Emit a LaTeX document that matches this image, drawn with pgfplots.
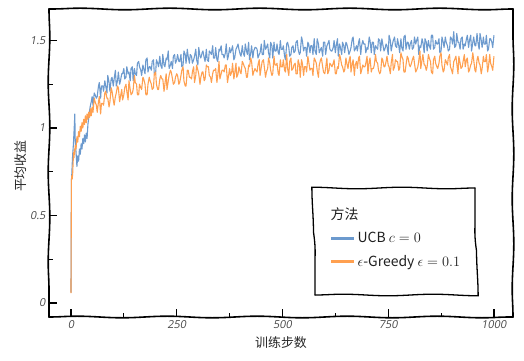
\documentclass[border=0pt]{standalone}
\usepackage{pgfplots}
\pgfplotsset{compat=1.18}
\usepackage{fontspec}
\usetikzlibrary{decorations.pathmorphing}
\newfontfamily\cjk{Noto Sans CJK SC}
\newfontfamily\tickfont[FakeSlant=0.18]{Open Sans}
\definecolor{ucbblue}{RGB}{108,154,206}
\definecolor{greedyorange}{RGB}{255,160,80}
\begin{document}
\begin{tikzpicture}
\useasboundingbox (0,0) rectangle (524bp,361bp);
\begin{axis}[
  name=ax,
  at={(49bp,44bp)}, anchor=south west,
  scale only axis, width=464bp, height=308bp,
  xmin=-52, xmax=1045, ymin=-0.08, ymax=1.68,
  xtick={0,250,500,750,1000}, ytick={0,0.5,1,1.5},
  minor x tick num=1, minor y tick num=1,
  tick align=inside, tick pos=left,
  major tick length=8bp, minor tick length=3.5bp,
  major tick style={line width=1.4pt, black},
  minor tick style={line width=1.1pt, black},
  axis line style={draw=none},
  /pgf/number format/assume math mode=true,
  /pgf/number format/1000 sep={},
  ticklabel style={font=\tickfont\fontsize{11}{12}\selectfont, text=black!72},
  xlabel={训练步数}, ylabel={平均收益},
  every axis x label/.style={at={(axis description cs:0.5,-0.083)}, anchor=center, font=\cjk\fontsize{13}{15}\selectfont, text=black!85},
  every axis y label/.style={at={(axis description cs:-0.062,0.49)}, rotate=90, anchor=center, font=\cjk\fontsize{13}{15}\selectfont, text=black!85},
  legend style={at={(axis description cs:0.573,0.419)}, anchor=north west, draw=none, fill=white,
    inner xsep=15bp, inner ysep=18bp, row sep=7bp, font=\cjk\fontsize{14}{16}\selectfont, text=black!88,
    cells={anchor=west}},
  legend cell align=left,
  legend image code/.code={\draw[#1, line width=2.6pt] (0bp,0bp) -- (23bp,0bp);},
]
\addlegendimage{empty legend}
\addlegendentry{\hspace*{-27bp}方法\rule[-10bp]{0pt}{1bp}}
\addplot[color=ucbblue, line width=1.1pt, line join=round] coordinates {
(0,0.06)(1,0.70)(2,0.74)(3,0.80)(4,0.85)(5,0.88)(6,0.92)(7,0.97)(8,1.02)(9,1.08)(10,0.93)(12,0.86)(14,0.78)(16,0.84)(18,0.81)(20,0.88)(22,0.85)(24,0.91)(26,0.88)(28,0.94)(30,0.91)(32,0.96)(34,0.92)(36,0.97)(38,0.94)(40,1.02)(42,1.06)(44,1.10)(46,1.13)(48,1.15)(50,1.18)
(52,1.13)(55,1.20)(57,1.19)(60,1.17)(62,1.18)(65,1.24)(67,1.26)(70,1.17)(72,1.24)(75,1.24)(77,1.21)(80,1.27)(82,1.24)(85,1.20)(87,1.30)(90,1.26)(92,1.21)(95,1.28)(97,1.29)(100,1.24)
(102,1.28)(105,1.33)(107,1.24)(110,1.27)(112,1.32)(115,1.25)(117,1.27)(120,1.31)(122,1.31)(125,1.34)(127,1.28)(130,1.29)(132,1.35)(135,1.31)(137,1.32)(140,1.27)(142,1.34)(145,1.35)(147,1.27)(150,1.34)
(152,1.31)(155,1.30)(157,1.37)(160,1.38)(162,1.35)(165,1.33)(167,1.30)(170,1.36)(172,1.34)(175,1.31)(177,1.39)(180,1.40)(182,1.32)(185,1.35)(187,1.35)(190,1.33)(192,1.38)(195,1.39)(197,1.31)(200,1.31)
(202,1.39)(205,1.37)(207,1.35)(210,1.41)(212,1.36)(215,1.34)(217,1.42)(220,1.36)(222,1.35)(225,1.40)(227,1.39)(230,1.44)(232,1.34)(235,1.36)(237,1.38)(240,1.34)(242,1.41)(245,1.42)(247,1.37)(250,1.39)
(252,1.42)(255,1.38)(257,1.38)(260,1.42)(262,1.35)(265,1.36)(267,1.44)(270,1.42)(272,1.37)(275,1.45)(277,1.41)(280,1.37)(282,1.42)(285,1.41)(287,1.37)(290,1.39)(292,1.41)(295,1.45)(297,1.39)(300,1.36)
(302,1.46)(305,1.41)(307,1.40)(310,1.43)(312,1.44)(315,1.40)(317,1.38)(320,1.45)(322,1.39)(325,1.38)(327,1.44)(330,1.43)(332,1.42)(335,1.47)(337,1.40)(340,1.40)(342,1.46)(345,1.39)(347,1.38)(350,1.45)
(352,1.44)(355,1.47)(357,1.42)(360,1.42)(362,1.40)(365,1.43)(367,1.48)(370,1.39)(372,1.41)(375,1.46)(377,1.43)(380,1.45)(382,1.47)(385,1.39)(387,1.40)(390,1.45)(392,1.46)(395,1.48)(397,1.45)(400,1.42)
(402,1.41)(405,1.47)(407,1.43)(410,1.41)(412,1.48)(415,1.44)(417,1.42)(420,1.49)(422,1.39)(425,1.43)(427,1.47)(430,1.40)(432,1.44)(435,1.46)(437,1.46)(440,1.45)(442,1.40)(445,1.42)(447,1.43)(450,1.48)
(452,1.42)(455,1.42)(457,1.50)(460,1.45)(462,1.46)(465,1.48)(467,1.43)(470,1.40)(472,1.49)(475,1.47)(477,1.40)(480,1.49)(482,1.44)(485,1.44)(487,1.48)(490,1.43)(492,1.42)(495,1.50)(497,1.45)(500,1.45)
(502,1.47)(505,1.41)(507,1.39)(510,1.48)(512,1.49)(515,1.46)(517,1.41)(520,1.42)(522,1.46)(525,1.47)(527,1.43)(530,1.44)(532,1.49)(535,1.50)(537,1.45)(540,1.42)(542,1.43)(545,1.52)(547,1.50)(550,1.44)
(552,1.46)(555,1.46)(557,1.41)(560,1.49)(562,1.48)(565,1.43)(567,1.47)(570,1.47)(572,1.42)(575,1.51)(577,1.44)(580,1.42)(582,1.51)(585,1.48)(587,1.43)(590,1.45)(592,1.46)(595,1.41)(597,1.49)(600,1.49)
(602,1.42)(605,1.47)(607,1.48)(610,1.50)(612,1.45)(615,1.44)(617,1.44)(620,1.46)(622,1.50)(625,1.43)(627,1.47)(630,1.51)(632,1.41)(635,1.48)(637,1.46)(640,1.42)(642,1.49)(645,1.47)(647,1.43)(650,1.49)
(652,1.48)(655,1.45)(657,1.42)(660,1.44)(662,1.46)(665,1.51)(667,1.52)(670,1.44)(672,1.45)(675,1.47)(677,1.44)(680,1.49)(682,1.51)(685,1.42)(687,1.47)(690,1.50)(692,1.48)(695,1.48)(697,1.43)(700,1.46)
(702,1.45)(705,1.52)(707,1.50)(710,1.43)(712,1.49)(715,1.49)(717,1.42)(720,1.47)(722,1.46)(725,1.45)(727,1.51)(730,1.50)(732,1.44)(735,1.51)(737,1.48)(740,1.44)(742,1.45)(745,1.48)(747,1.47)(750,1.42)
(752,1.53)(755,1.50)(757,1.44)(760,1.48)(762,1.50)(765,1.52)(767,1.47)(770,1.46)(772,1.51)(775,1.47)(777,1.43)(780,1.51)(782,1.46)(785,1.44)(787,1.52)(790,1.53)(792,1.45)(795,1.49)(797,1.49)(800,1.45)
(802,1.48)(805,1.50)(807,1.45)(810,1.46)(812,1.52)(815,1.48)(817,1.50)(820,1.52)(822,1.42)(825,1.47)(827,1.46)(830,1.51)(832,1.49)(835,1.43)(837,1.51)(840,1.49)(842,1.44)(845,1.50)(847,1.47)(850,1.45)
(852,1.53)(855,1.53)(857,1.45)(860,1.46)(862,1.50)(865,1.48)(867,1.48)(870,1.51)(872,1.43)(875,1.44)(877,1.52)(880,1.49)(882,1.46)(885,1.52)(887,1.49)(890,1.47)(892,1.44)(895,1.45)(897,1.52)(900,1.51)
(902,1.48)(905,1.55)(907,1.46)(910,1.47)(912,1.54)(915,1.49)(917,1.49)(920,1.45)(922,1.51)(925,1.52)(927,1.45)(930,1.48)(932,1.47)(935,1.51)(937,1.53)(940,1.46)(942,1.50)(945,1.53)(947,1.44)(950,1.49)
(952,1.52)(955,1.47)(957,1.47)(960,1.54)(962,1.49)(965,1.45)(967,1.54)(970,1.50)(972,1.46)(975,1.52)(977,1.48)(980,1.48)(982,1.53)(985,1.44)(987,1.45)(990,1.51)(992,1.51)(995,1.49)(997,1.46)(1000,1.53)
};
\addlegendentry{UCB $c=0$}
\addplot[color=greedyorange, line width=1.1pt, line join=round] coordinates {
(0,0.057)(1,0.70)(2,0.73)(3,0.71)(4,0.74)(5,0.80)(6,0.86)(7,0.83)(8,0.88)(9,0.85)(10,0.90)(12,0.88)(14,0.95)(16,0.92)(18,0.98)(20,0.95)(22,1.01)(24,0.98)(26,1.03)(28,1.00)(30,1.05)(32,1.02)(34,1.07)(36,1.03)(38,1.08)(40,1.05)(42,1.09)(44,1.06)(46,1.11)(48,1.07)(50,1.12)
(52,1.09)(55,1.17)(57,1.15)(60,1.13)(62,1.09)(65,1.15)(67,1.18)(70,1.08)(72,1.14)(75,1.14)(77,1.13)(80,1.20)(82,1.21)(85,1.17)(87,1.17)(90,1.12)(92,1.15)(95,1.23)(97,1.21)(100,1.16)
(102,1.13)(105,1.18)(107,1.20)(110,1.24)(112,1.23)(115,1.15)(117,1.18)(120,1.22)(122,1.16)(125,1.19)(127,1.23)(130,1.25)(132,1.21)(135,1.16)(137,1.27)(140,1.22)(142,1.19)(145,1.20)(147,1.22)(150,1.30)
(152,1.26)(155,1.25)(157,1.19)(160,1.19)(162,1.25)(165,1.23)(167,1.22)(170,1.29)(172,1.28)(175,1.25)(177,1.19)(180,1.19)(182,1.25)(185,1.29)(187,1.27)(190,1.25)(192,1.22)(195,1.23)(197,1.31)(200,1.32)
(202,1.25)(205,1.22)(207,1.22)(210,1.28)(212,1.30)(215,1.28)(217,1.28)(220,1.21)(222,1.25)(225,1.31)(227,1.22)(230,1.27)(232,1.30)(235,1.33)(237,1.32)(240,1.28)(242,1.25)(245,1.26)(247,1.29)(250,1.31)
(252,1.30)(255,1.25)(257,1.26)(260,1.30)(262,1.33)(265,1.35)(267,1.27)(270,1.24)(272,1.24)(275,1.33)(277,1.33)(280,1.29)(282,1.29)(285,1.28)(287,1.32)(290,1.35)(292,1.26)(295,1.30)(297,1.36)(300,1.33)
(302,1.31)(305,1.25)(307,1.29)(310,1.32)(312,1.32)(315,1.27)(317,1.28)(320,1.36)(322,1.35)(325,1.35)(327,1.30)(330,1.29)(332,1.26)(335,1.31)(337,1.33)(340,1.33)(342,1.34)(345,1.26)(347,1.30)(350,1.38)
(352,1.28)(355,1.31)(357,1.33)(360,1.33)(362,1.32)(365,1.36)(367,1.36)(370,1.26)(372,1.29)(375,1.34)(377,1.30)(380,1.32)(382,1.37)(385,1.28)(387,1.31)(390,1.37)(392,1.29)(395,1.31)(397,1.35)(400,1.32)
(402,1.31)(405,1.38)(407,1.37)(410,1.35)(412,1.34)(415,1.29)(417,1.29)(420,1.36)(422,1.35)(425,1.40)(427,1.38)(430,1.30)(432,1.32)(435,1.34)(437,1.33)(440,1.32)(442,1.36)(445,1.39)(447,1.30)(450,1.35)
(452,1.38)(455,1.39)(457,1.35)(460,1.29)(462,1.32)(465,1.34)(467,1.40)(470,1.37)(472,1.33)(475,1.30)(477,1.31)(480,1.41)(482,1.36)(485,1.36)(487,1.37)(490,1.31)(492,1.30)(495,1.39)(497,1.35)(500,1.35)
(502,1.39)(505,1.33)(507,1.32)(510,1.42)(512,1.34)(515,1.30)(517,1.38)(520,1.40)(522,1.33)(525,1.34)(527,1.36)(530,1.37)(532,1.31)(535,1.31)(537,1.39)(540,1.36)(542,1.29)(545,1.39)(547,1.37)(550,1.30)
(552,1.35)(555,1.35)(557,1.32)(560,1.41)(562,1.38)(565,1.33)(567,1.34)(570,1.34)(572,1.30)(575,1.40)(577,1.39)(580,1.37)(582,1.33)(585,1.29)(587,1.36)(590,1.39)(592,1.40)(595,1.35)(597,1.32)(600,1.31)
(602,1.34)(605,1.40)(607,1.31)(610,1.33)(612,1.37)(615,1.36)(617,1.35)(620,1.37)(622,1.39)(625,1.31)(627,1.31)(630,1.35)(632,1.34)(635,1.42)(637,1.40)(640,1.36)(642,1.35)(645,1.32)(647,1.33)(650,1.40)
(652,1.37)(655,1.34)(657,1.38)(660,1.41)(662,1.32)(665,1.37)(667,1.39)(670,1.30)(672,1.36)(675,1.38)(677,1.34)(680,1.40)(682,1.41)(685,1.31)(687,1.33)(690,1.36)(692,1.35)(695,1.35)(697,1.37)(700,1.41)
(702,1.31)(705,1.38)(707,1.40)(710,1.32)(712,1.34)(715,1.34)(717,1.36)(720,1.42)(722,1.38)(725,1.37)(727,1.33)(730,1.31)(732,1.32)(735,1.40)(737,1.39)(740,1.35)(742,1.35)(745,1.38)(747,1.41)(750,1.36)
(752,1.35)(755,1.31)(757,1.37)(760,1.42)(762,1.33)(765,1.35)(767,1.39)(770,1.38)(772,1.38)(775,1.33)(777,1.34)(780,1.43)(782,1.41)(785,1.39)(787,1.32)(790,1.32)(792,1.36)(795,1.41)(797,1.40)(800,1.36)
(802,1.35)(805,1.37)(807,1.39)(810,1.41)(812,1.37)(815,1.32)(817,1.33)(820,1.35)(822,1.38)(825,1.44)(827,1.34)(830,1.39)(832,1.42)(835,1.36)(837,1.36)(840,1.33)(842,1.35)(845,1.42)(847,1.40)(850,1.38)
(852,1.32)(855,1.31)(857,1.39)(860,1.41)(862,1.37)(865,1.35)(867,1.34)(870,1.37)(872,1.41)(875,1.43)(877,1.36)(880,1.32)(882,1.33)(885,1.39)(887,1.38)(890,1.36)(892,1.40)(895,1.42)(897,1.35)(900,1.33)
(902,1.31)(905,1.38)(907,1.39)(910,1.41)(912,1.37)(915,1.31)(917,1.41)(920,1.37)(922,1.34)(925,1.35)(927,1.38)(930,1.42)(932,1.35)(935,1.39)(937,1.40)(940,1.32)(942,1.33)(945,1.36)(947,1.37)(950,1.43)
(952,1.39)(955,1.33)(957,1.32)(960,1.39)(962,1.41)(965,1.37)(967,1.36)(970,1.31)(972,1.34)(975,1.41)(977,1.38)(980,1.38)(982,1.42)(985,1.32)(987,1.35)(990,1.42)(992,1.37)(995,1.35)(997,1.33)(1000,1.41)
};
\addlegendentry{$\epsilon$-Greedy $\epsilon=0.1$}
\end{axis}
\tikzset{sketch/.style={line width=1.6pt, black, line cap=round, decorate, decoration={snake, segment length=90bp, amplitude=0.8bp}}}
\draw[sketch] (ax.south west) -- (ax.south east);
\draw[sketch] (ax.south east) -- (ax.north east);
\draw[sketch] (ax.north east) -- (ax.north west);
\draw[sketch] (ax.north west) -- (ax.south west);
\draw[sketch, line width=1.3pt] (315bp,66bp) -- (475bp,66bp) -- (475bp,173bp);
\draw[sketch, line width=1.3pt] (475bp,173bp) -- (315bp,173bp) -- (315bp,66bp);
\end{tikzpicture}
\end{document}
